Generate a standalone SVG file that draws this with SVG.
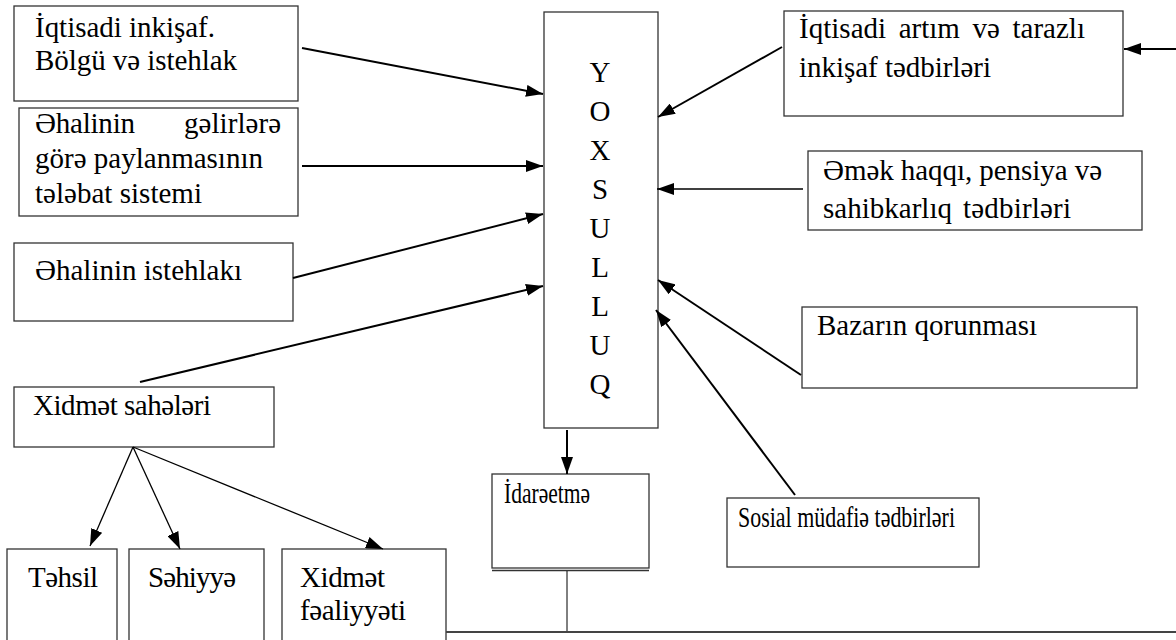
<svg xmlns="http://www.w3.org/2000/svg" width="1176" height="640" viewBox="0 0 1176 640">
<defs>
<style>
.box{fill:#fff;stroke:#333;stroke-width:1.3}
.t{font-family:"Liberation Serif",serif;font-size:29px;fill:#000}
.c{stroke:#000;stroke-width:2;fill:none}
.cs{stroke:#000;stroke-width:1.3;fill:none}
</style>
<marker id="ah" markerUnits="userSpaceOnUse" markerWidth="17" markerHeight="12" refX="17" refY="6" orient="auto">
<path d="M0,0 L17,6 L0,12 z" fill="#000"/>
</marker>
</defs>
<rect width="1176" height="640" fill="#fff"/>

<g id="n-iqtisadi-inkisaf">
<rect class="box" x="14" y="6" width="284" height="95"/>
<text class="t" x="35" y="37" textLength="180" lengthAdjust="spacing">İqtisadi inkişaf.</text>
<text class="t" x="35" y="70" textLength="202" lengthAdjust="spacing">Bölgü və istehlak</text>
</g>
<g id="n-ehalinin-gelirlere">
<rect class="box" x="19" y="108" width="279" height="108"/>
<text class="t" x="35" y="133" textLength="100" lengthAdjust="spacing">Əhalinin</text>
<text class="t" x="184" y="133" textLength="97" lengthAdjust="spacing">gəlirlərə</text>
<text class="t" x="35" y="168" textLength="228" lengthAdjust="spacing">görə paylanmasının</text>
<text class="t" x="35" y="203" textLength="167" lengthAdjust="spacing">tələbat sistemi</text>
</g>
<g id="n-ehalinin-istehlaki">
<rect class="box" x="14" y="243" width="279" height="78"/>
<text class="t" x="35" y="280" textLength="207" lengthAdjust="spacing">Əhalinin istehlakı</text>
</g>
<g id="n-yoxsulluq">
<rect class="box" x="544" y="12" width="114" height="416"/>
<g text-anchor="middle">
<text class="t" x="600" y="82">Y</text>
<text class="t" x="600" y="121">O</text>
<text class="t" x="600" y="160">X</text>
<text class="t" x="600" y="199">S</text>
<text class="t" x="600" y="238">U</text>
<text class="t" x="600" y="277">L</text>
<text class="t" x="600" y="316">L</text>
<text class="t" x="600" y="355">U</text>
<text class="t" x="600" y="394">Q</text>
</g>
</g>
<g id="n-iqtisadi-artim">
<rect class="box" x="784" y="11" width="339" height="105"/>
<text class="t" x="799" y="38" word-spacing="5.3" textLength="286" lengthAdjust="spacing">İqtisadi artım və tarazlı</text>
<text class="t" x="799" y="77" textLength="192" lengthAdjust="spacing">inkişaf tədbirləri</text>
</g>
<g id="n-emek-haqqi">
<rect class="box" x="808" y="151" width="334" height="79"/>
<text class="t" x="823" y="180" textLength="279" lengthAdjust="spacing">Əmək haqqı, pensiya və</text>
<text class="t" x="823" y="218" textLength="129" lengthAdjust="spacing">sahibkarlıq</text>
<text class="t" x="963" y="218" textLength="108" lengthAdjust="spacing">tədbirləri</text>
</g>
<g id="n-bazarin">
<rect class="box" x="802" y="307" width="335" height="81"/>
<text class="t" x="817" y="335" textLength="220" lengthAdjust="spacing">Bazarın qorunması</text>
</g>
<g id="n-sosial">
<rect class="box" x="727" y="498" width="252" height="69"/>
<text class="t" x="738" y="527" textLength="217" lengthAdjust="spacingAndGlyphs">Sosial müdafiə tədbirləri</text>
</g>
<g id="n-idareetme">
<rect class="box" x="492" y="474" width="157" height="94"/>
<line x1="492" y1="570.5" x2="649" y2="570.5" stroke="#333" stroke-width="1.3"/>
<text class="t" x="504" y="503" textLength="86" lengthAdjust="spacingAndGlyphs">İdarəetmə</text>
</g>
<g id="n-xidmet-saheleri">
<rect class="box" x="14" y="387" width="260" height="60"/>
<text class="t" x="33" y="415" textLength="178" lengthAdjust="spacing">Xidmət sahələri</text>
</g>
<g id="n-tehsil">
<rect class="box" x="7" y="549" width="110" height="110"/>
<text class="t" x="28" y="587" textLength="70" lengthAdjust="spacing">Təhsil</text>
</g>
<g id="n-sehiyye">
<rect class="box" x="129" y="549" width="135" height="110"/>
<text class="t" x="148" y="587" textLength="88" lengthAdjust="spacing">Səhiyyə</text>
</g>
<g id="n-xidmet-fealiyyeti">
<rect class="box" x="282" y="549" width="164" height="110"/>
<text class="t" x="300" y="587" textLength="85" lengthAdjust="spacing">Xidmət</text>
<text class="t" x="300" y="620" textLength="106" lengthAdjust="spacing">fəaliyyəti</text>
</g>

<g id="connectors">
<line class="c" x1="302" y1="48" x2="543" y2="94" marker-end="url(#ah)"/>
<line class="c" x1="302" y1="166" x2="543" y2="166" marker-end="url(#ah)"/>
<line class="c" x1="293" y1="278" x2="543" y2="214" marker-end="url(#ah)"/>
<line class="c" x1="140" y1="382" x2="543" y2="286" marker-end="url(#ah)"/>
<line class="c" x1="782" y1="47" x2="658" y2="117" marker-end="url(#ah)"/>
<line class="cs" x1="803" y1="189" x2="657" y2="189" marker-end="url(#ah)"/>
<line class="c" x1="801" y1="375" x2="658" y2="280" marker-end="url(#ah)"/>
<line class="c" x1="795" y1="495" x2="656" y2="310" marker-end="url(#ah)"/>
<line class="c" x1="1176" y1="49" x2="1124" y2="49" marker-end="url(#ah)"/>
<line class="c" x1="567" y1="430" x2="567" y2="474" marker-end="url(#ah)"/>
<line class="cs" x1="133" y1="447" x2="90" y2="546" marker-end="url(#ah)"/>
<line class="cs" x1="133" y1="447" x2="180" y2="549" marker-end="url(#ah)"/>
<line class="cs" x1="133" y1="447" x2="383" y2="549" marker-end="url(#ah)"/>
<line x1="567" y1="571" x2="567" y2="633" stroke="#000" stroke-width="1"/>
<line x1="446" y1="632" x2="1176" y2="632" stroke="#444" stroke-width="2"/>
</g>
</svg>
